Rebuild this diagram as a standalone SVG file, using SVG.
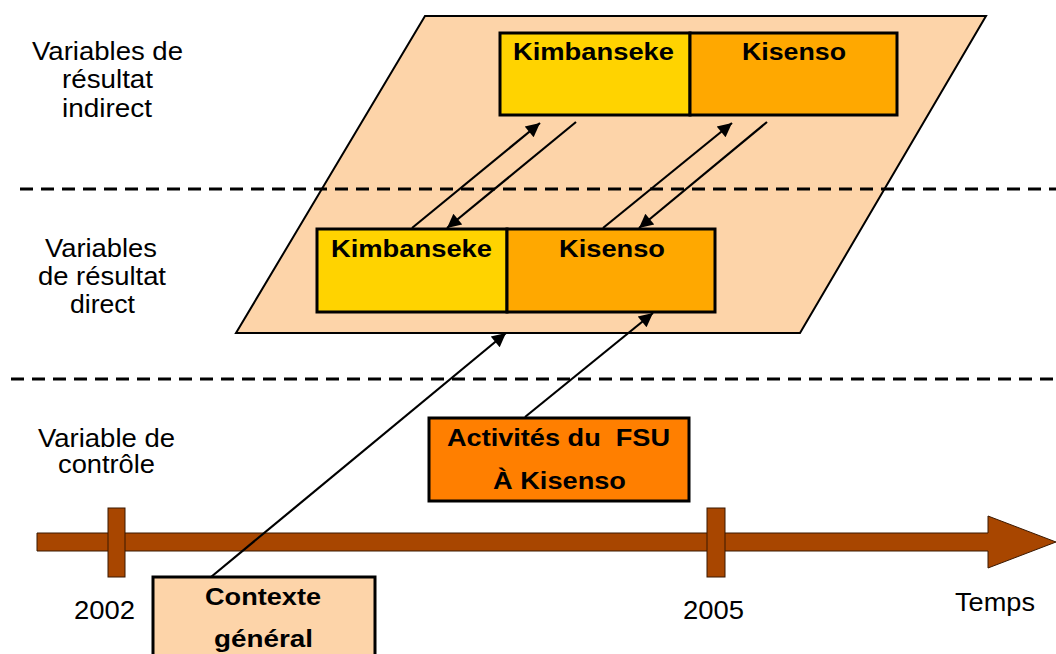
<svg xmlns="http://www.w3.org/2000/svg" width="1056" height="654" viewBox="0 0 1056 654">
<style>
.bg{fill:#ffffff}
.plane{fill:#FDD4A9;stroke:#000;stroke-width:2}
.dash{stroke:#000;stroke-width:3;stroke-dasharray:13 8;fill:none}
.lbl{font-family:"Liberation Sans",Arial,sans-serif;font-size:25px;fill:#000}
.bold{font-family:"Liberation Sans",Arial,sans-serif;font-size:23px;font-weight:bold;fill:#000}
.yel{fill:#FFD300;stroke:#000;stroke-width:3}
.org{fill:#FFA800;stroke:#000;stroke-width:3}
.act{fill:#FF7F00;stroke:#000;stroke-width:3}
.ctx{fill:#FDD4A9;stroke:#000;stroke-width:3}
.tl{fill:#A84600;stroke:#3a1800;stroke-width:1}
.conn{stroke:#000;stroke-width:2.2;fill:none;marker-end:url(#ah)}
</style>
<defs>
<marker id="ah" viewBox="0 0 10 10" refX="10" refY="5" markerWidth="20" markerHeight="14" markerUnits="userSpaceOnUse" orient="auto">
<path d="M0,0 L10,5 L0,10 z" fill="#000"/>
</marker>
</defs>
<rect class="bg" x="0" y="0" width="1056" height="654"/>
<g id="plane">
<polygon class="plane" points="425,16 986,16 800,333 236,333"/>
</g>
<g id="separators">
<line class="dash" x1="20" y1="189" x2="1056" y2="189"/>
<line class="dash" x1="11" y1="379" x2="1056" y2="379"/>
</g>
<g id="row-labels">
<text class="lbl" x="32" y="60" textLength="151" lengthAdjust="spacingAndGlyphs">Variables de</text>
<text class="lbl" x="62" y="88" textLength="91" lengthAdjust="spacingAndGlyphs">résultat</text>
<text class="lbl" x="62" y="117" textLength="90" lengthAdjust="spacingAndGlyphs">indirect</text>
<text class="lbl" x="45" y="257" textLength="112" lengthAdjust="spacingAndGlyphs">Variables</text>
<text class="lbl" x="38" y="285" textLength="128" lengthAdjust="spacingAndGlyphs">de résultat</text>
<text class="lbl" x="70" y="313" textLength="65" lengthAdjust="spacingAndGlyphs">direct</text>
<text class="lbl" x="38" y="447" textLength="137" lengthAdjust="spacingAndGlyphs">Variable de</text>
<text class="lbl" x="58" y="473" textLength="97" lengthAdjust="spacingAndGlyphs">contrôle</text>
</g>
<g id="timeline">
<polygon class="tl" points="37,533 988,533 988,516 1056,542 988,568 988,551 37,551"/>
<rect class="tl" x="108" y="508" width="17" height="69"/>
<rect class="tl" x="707" y="508" width="18" height="69"/>
<text class="lbl" x="74" y="619" textLength="61" lengthAdjust="spacingAndGlyphs">2002</text>
<text class="lbl" x="683" y="619" textLength="61" lengthAdjust="spacingAndGlyphs">2005</text>
<text class="lbl" x="955" y="611" textLength="80" lengthAdjust="spacingAndGlyphs">Temps</text>
</g>
<g id="indirect-kimbanseke">
<rect class="yel" x="500" y="33" width="190" height="82"/>
<text class="bold" x="513" y="60" textLength="161" lengthAdjust="spacingAndGlyphs">Kimbanseke</text>
</g>
<g id="indirect-kisenso">
<rect class="org" x="690" y="33" width="207" height="82"/>
<text class="bold" x="742" y="60" textLength="104" lengthAdjust="spacingAndGlyphs">Kisenso</text>
</g>
<g id="direct-kimbanseke">
<rect class="yel" x="317" y="229" width="190" height="83"/>
<text class="bold" x="331" y="257" textLength="161" lengthAdjust="spacingAndGlyphs">Kimbanseke</text>
</g>
<g id="direct-kisenso">
<rect class="org" x="507" y="229" width="208" height="83"/>
<text class="bold" x="559" y="257" textLength="106" lengthAdjust="spacingAndGlyphs">Kisenso</text>
</g>
<g id="activites-fsu">
<rect class="act" x="429" y="418" width="260" height="83"/>
<text class="bold" x="447" y="446" textLength="223" lengthAdjust="spacingAndGlyphs" xml:space="preserve" style="font-size:24px">Activités du  FSU</text>
<text class="bold" x="493" y="489" textLength="133" lengthAdjust="spacingAndGlyphs" style="font-size:24px">À Kisenso</text>
</g>
<g id="contexte-general">
<rect class="ctx" x="153" y="577" width="222" height="90"/>
<text class="bold" x="205" y="605" textLength="116" lengthAdjust="spacingAndGlyphs">Contexte</text>
<text class="bold" x="214" y="647" textLength="99" lengthAdjust="spacingAndGlyphs">général</text>
</g>
<g id="connectors">
<line class="conn" x1="412" y1="228" x2="540" y2="123"/>
<line class="conn" x1="576" y1="122" x2="447" y2="228"/>
<line class="conn" x1="603" y1="228" x2="732" y2="123"/>
<line class="conn" x1="767" y1="122" x2="639" y2="228"/>
<line class="conn" x1="211" y1="577" x2="506" y2="333"/>
<line class="conn" x1="525" y1="417" x2="653" y2="313"/>
</g>
</svg>
